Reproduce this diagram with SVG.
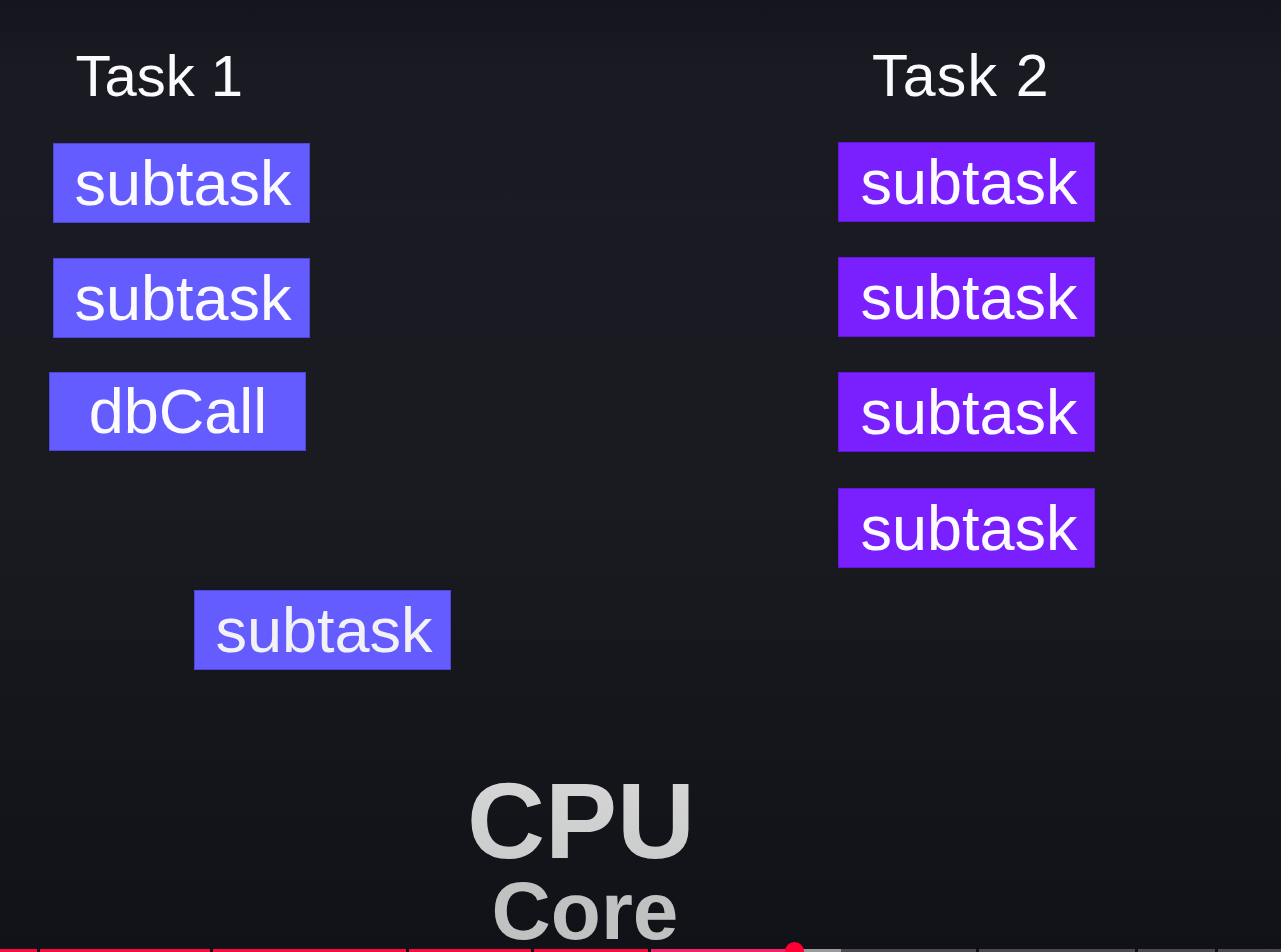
<svg xmlns="http://www.w3.org/2000/svg" width="1281" height="952" viewBox="0 0 1281 952">
  <defs>
    <linearGradient id="bg" x1="0" y1="0" x2="0" y2="1">
      <stop offset="0" stop-color="#15151d"/>
      <stop offset="0.08" stop-color="#1a1a23"/>
      <stop offset="0.5" stop-color="#1a1b21"/>
      <stop offset="1" stop-color="#111217"/>
    </linearGradient>
    <linearGradient id="cpuGrad" x1="0" y1="0" x2="0" y2="1">
      <stop offset="0" stop-color="#d8d8d8"/>
      <stop offset="1" stop-color="#c8c9c9"/>
    </linearGradient>
  </defs>
  <style>
    .lbl { font-family: "Liberation Sans", Arial, Helvetica, sans-serif; fill: #fafaff; }
    .title { font-size: 58px; }
    .box-t1 { fill: #645cfe; stroke: #4d46d6; stroke-width: 1; }
    .box-t2 { fill: #7a1ffe; stroke: #6616d8; stroke-width: 1; }
    .btxt { font-size: 63px; text-anchor: middle; }
    .cpu { font-family: "Liberation Sans", Arial, Helvetica, sans-serif; font-weight: bold; text-anchor: middle; }
    .red { fill: #fb0a3c; }
  </style>
  <rect x="0" y="0" width="1281" height="952" fill="url(#bg)"/>

  <g id="task1-title">
    <text class="lbl title" x="75.5" y="96">Task 1</text>
  </g>
  <g id="task2-title">
    <text class="lbl title" x="872" y="96" style="font-size:59px;letter-spacing:1.2px">Task 2</text>
  </g>

  <g id="t1-subtask-1">
    <rect class="box-t1" x="53.5" y="143.5" width="256" height="79"/>
    <text class="lbl btxt" x="183" y="205">subtask</text>
  </g>
  <g id="t1-subtask-2">
    <rect class="box-t1" x="53.5" y="258.5" width="256" height="79"/>
    <text class="lbl btxt" x="183" y="320">subtask</text>
  </g>
  <g id="t1-dbcall">
    <rect class="box-t1" x="49.5" y="372.5" width="256" height="78"/>
    <text class="lbl btxt" x="178" y="433">dbCall</text>
  </g>
  <g id="t1-subtask-3">
    <rect class="box-t1" x="194.5" y="590.5" width="256" height="79"/>
    <text class="lbl btxt" x="324" y="652" style="fill:#f2f2f6">subtask</text>
  </g>

  <g id="t2-subtask-1">
    <rect class="box-t2" x="838.5" y="142.5" width="256" height="79"/>
    <text class="lbl btxt" x="969" y="204">subtask</text>
  </g>
  <g id="t2-subtask-2">
    <rect class="box-t2" x="838.5" y="257.5" width="256" height="79"/>
    <text class="lbl btxt" x="969" y="319">subtask</text>
  </g>
  <g id="t2-subtask-3">
    <rect class="box-t2" x="838.5" y="372.5" width="256" height="79"/>
    <text class="lbl btxt" x="969" y="434">subtask</text>
  </g>
  <g id="t2-subtask-4">
    <rect class="box-t2" x="838.5" y="488.5" width="256" height="79"/>
    <text class="lbl btxt" x="969" y="550">subtask</text>
  </g>

  <g id="cpu-core">
    <text class="cpu" x="581" y="858" font-size="108" fill="url(#cpuGrad)">CPU</text>
    <text class="cpu" x="585" y="939" font-size="82" fill="#c0c1c1">Core</text>
  </g>

  <g id="progress-bar">
    <rect class="red" x="0" y="949" width="37" height="3"/>
    <rect class="red" x="40" y="949" width="170" height="3"/>
    <rect class="red" x="213" y="949" width="193" height="3"/>
    <rect class="red" x="409" y="949" width="122" height="3"/>
    <rect class="red" x="534" y="949" width="114" height="3"/>
    <rect x="651" y="949" width="140" height="3" fill="#f5226a"/>
    <rect x="795" y="949" width="46" height="3" fill="#9a9a9c"/>
    <rect x="841" y="949" width="135" height="3" fill="#4a4a50"/>
    <rect x="979" y="949" width="156" height="3" fill="#4a4a50"/>
    <rect x="1138" y="949" width="77" height="3" fill="#4a4a50"/>
    <rect x="1218" y="949" width="63" height="3" fill="#4a4a50"/>
    <circle cx="794.5" cy="951.5" r="9.5" fill="#ff0033"/>
  </g>
</svg>
